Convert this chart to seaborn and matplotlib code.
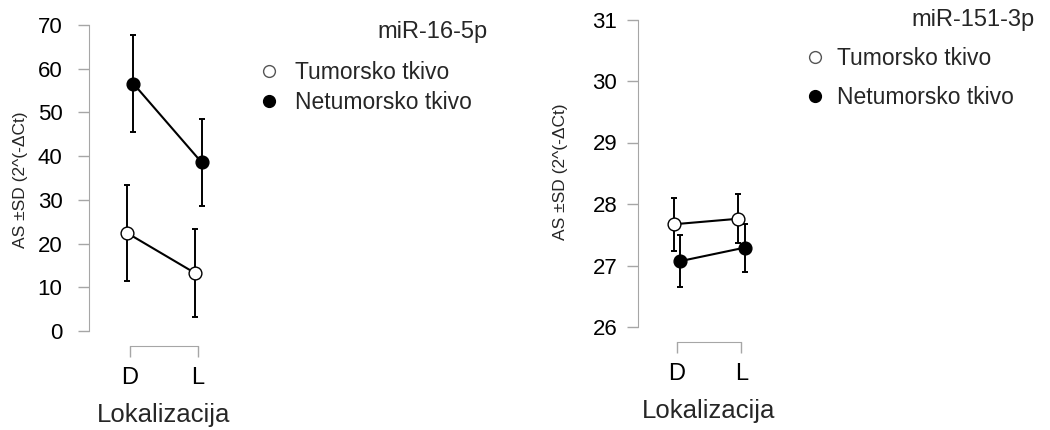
import numpy as np
import pandas as pd
import matplotlib
matplotlib.use("Agg")
import matplotlib.pyplot as plt
import seaborn as sns
from matplotlib.lines import Line2D

# data (mean and SD per group)
lokacije = ["D", "L"]
tkiva = ["Tumorsko tkivo", "Netumorsko tkivo"]

mir16_tum_mean = [22.5, 13.3]
mir16_tum_sd = [11.0, 10.0]
mir16_net_mean = [56.6, 38.6]
mir16_net_sd = [11.1, 10.0]

mir151_tum_mean = [27.67, 27.76]
mir151_tum_sd = [0.43, 0.40]
mir151_net_mean = [27.07, 27.29]
mir151_net_sd = [0.42, 0.39]

sns.set_style("ticks")
plt.rcParams["font.family"] = ["Liberation Sans", "DejaVu Sans"]

GRAY = "#a6a6a6"
DODGE = 0.1


def make_df(tum_mean, tum_sd, net_mean, net_sd):
    return pd.DataFrame({
        "Lokalizacija": lokacije * 2,
        "Tkivo": [tkiva[0]] * 2 + [tkiva[1]] * 2,
        "mean": tum_mean + net_mean,
        "sd": tum_sd + net_sd,
    })


def draw_panel(ax, df, ylim, yticks, ypad):
    sns.pointplot(data=df, x="Lokalizacija", y="mean", hue="Tkivo",
                  hue_order=tkiva, order=lokacije,
                  palette=["black", "black"], dodge=DODGE, errorbar=None,
                  markers="o", linestyles="-", markersize=9.2,
                  markeredgewidth=1.0, markeredgecolor="black",
                  linewidth=1.5, legend=False, ax=ax, zorder=3)
    ax.lines[0].set_markerfacecolor("white")
    # error bars (mean +- SD)
    for i, tkivo in enumerate(tkiva):
        sub = df[df["Tkivo"] == tkivo]
        xs = np.arange(len(lokacije)) - DODGE / 2 + DODGE * i
        ax.errorbar(xs, sub["mean"], yerr=sub["sd"], fmt="none",
                    ecolor="black", elinewidth=1.4, capsize=2.3,
                    capthick=1.4, zorder=2)
    ax.set_xlim(-0.6, 1.6)
    ax.set_ylim(*ylim)
    ax.set_yticks(yticks)
    sns.despine(ax=ax)
    ax.spines["left"].set_color(GRAY)
    ax.spines["bottom"].set_color(GRAY)
    ax.spines["bottom"].set_position(("outward", 11))
    ax.spines["bottom"].set_bounds(0, 1)
    ax.tick_params(axis="y", colors=GRAY, labelcolor="black", length=8,
                   width=1, pad=ypad, labelsize=16)
    ax.tick_params(axis="x", colors=GRAY, labelcolor="black", length=8,
                   width=1, pad=7, labelsize=17)
    ax.set_xlabel("Lokalizacija", fontsize=18.5, labelpad=10)
    ax.set_ylabel("AS ±SD (2^(-ΔCt)", fontsize=12.5)


fig = plt.figure(figsize=(10.5, 4.3), dpi=100)
ax1 = fig.add_axes([89 / 1050, 1 - 331 / 430, 150 / 1050, 306 / 430])
ax2 = fig.add_axes([638 / 1050, 1 - 327 / 430, 142 / 1050, 307.5 / 430])

draw_panel(ax1, make_df(mir16_tum_mean, mir16_tum_sd, mir16_net_mean, mir16_net_sd),
           (0, 70), range(0, 71, 10), 11)
draw_panel(ax2, make_df(mir151_tum_mean, mir151_tum_sd, mir151_net_mean, mir151_net_sd),
           (26, 31), range(26, 32), 7)
ax1.yaxis.set_label_coords(-0.41, 0.495)
ax2.yaxis.set_label_coords(-0.49, 0.505)

fig.text(488 / 1050, 1 - 32 / 430, "miR-16-5p", ha="right", va="center", fontsize=17)
fig.text(1035 / 1050, 1 - 20 / 430, "miR-151-3p", ha="right", va="center", fontsize=17)

handles = [
    Line2D([], [], marker="o", ls="none", markersize=8.5, markerfacecolor="white",
           markeredgecolor="#555555", markeredgewidth=1),
    Line2D([], [], marker="o", ls="none", markersize=8.5, markerfacecolor="black",
           markeredgecolor="black"),
]
fig.legend(handles, tkiva, loc="upper left", bbox_to_anchor=(258 / 1050, 1 - 61 / 430),
           frameon=False, fontsize=16.5, handlelength=1.0, handletextpad=0.62,
           borderpad=0, borderaxespad=0, labelspacing=0.31)
fig.legend(handles, tkiva, loc="upper left", bbox_to_anchor=(803.5 / 1050, 1 - 47 / 430),
           frameon=False, fontsize=16.5, handlelength=1.0, handletextpad=0.45,
           borderpad=0, borderaxespad=0, labelspacing=0.72)

fig.savefig("out.png", dpi=100)
